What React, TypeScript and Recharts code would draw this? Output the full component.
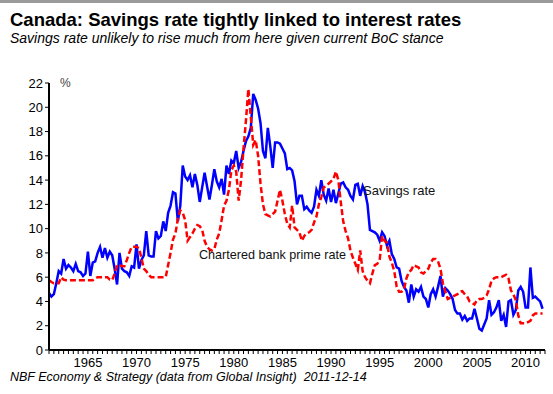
import React from 'react'
import { LineChart, Line, XAxis, YAxis } from 'recharts'

// quarterly data, 1961Q1 .. 2011Q4
const START_YEAR = 1961

const savingsRate = [
  4.7, 4.4, 4.6, 5.5, 6.5, 6.3, 7.5, 6.7, 7.0, 6.8, 6.5, 7.1, 6.5, 6.4, 6.1, 6.3,
  8.1, 6.1, 7.2, 7.3, 8.0, 8.5, 7.6, 8.4, 7.6, 8.1, 7.8, 6.7, 5.4, 8.0, 6.7, 6.5,
  6.4, 6.1, 6.9, 6.8, 8.7, 6.7, 7.4, 7.8, 9.8, 7.8, 7.7, 7.7, 9.8, 9.2, 9.4, 10.6,
  9.8, 11.3, 11.9, 13.0, 12.9, 10.6, 11.9, 15.2, 14.3, 14.0, 14.4, 13.4, 14.5, 13.6, 12.2, 13.4,
  14.6, 13.5, 12.4, 13.6, 14.9, 13.9, 13.4, 14.1, 12.8, 15.2, 14.5, 15.6, 15.4, 16.4, 15.0, 15.5,
  16.4, 17.2, 17.6, 18.3, 21.1, 20.6, 19.9, 18.7, 16.4, 15.8, 18.3, 16.8, 15.0, 17.1, 17.1, 17.0,
  16.6, 16.2, 14.9, 15.0, 14.8, 13.9, 12.0, 12.7, 12.7, 11.6, 11.8, 11.5, 11.3, 11.8, 13.2, 12.7,
  14.0, 12.8, 12.3, 13.3, 12.2, 13.2, 12.1, 12.9, 13.7, 13.8, 13.4, 13.2, 12.7, 12.4, 13.6, 13.7,
  12.7, 13.5, 13.0, 12.0, 9.9, 9.8, 9.7, 9.5, 9.0, 9.7, 9.4, 8.6, 9.0, 7.9, 7.5, 6.8,
  6.7, 5.7, 5.2, 4.9, 3.9, 5.4, 4.4, 5.0, 4.8, 5.2, 4.4, 4.2, 3.5, 4.6, 5.0, 4.4,
  5.2, 6.1, 4.4, 5.1, 4.9, 4.6, 4.2, 3.3, 3.0, 3.0, 2.5, 2.8, 2.4, 2.6, 2.6, 3.4,
  2.6, 1.75, 1.6, 2.1, 2.6, 4.1, 2.9, 3.1, 3.5, 4.1, 2.4, 2.9, 1.9, 4.0, 4.1, 2.9,
  3.3, 4.9, 5.2, 4.8, 3.5, 3.5, 6.8, 4.3, 4.4, 4.2, 4.0, 3.4,
]

const primeRate = [
  5.75, 5.6, 5.5, 5.5, 5.5, 6.0, 5.8, 5.75, 5.75, 5.75, 5.75, 5.75, 5.75, 5.75, 5.75, 5.75,
  5.75, 5.75, 5.75, 5.9, 6.0, 6.0, 6.0, 6.0, 6.0, 5.8, 5.75, 6.3, 7.0, 7.0, 6.9, 6.9,
  7.4, 8.0, 8.5, 8.5, 8.5, 8.4, 7.6, 6.7, 6.5, 6.2, 6.0, 6.0, 6.0, 6.0, 6.0, 6.0,
  6.0, 7.0, 8.0, 9.1, 9.6, 10.8, 11.5, 11.3, 10.7, 9.0, 9.3, 9.6, 10.0, 10.3, 10.2, 9.9,
  9.0, 8.5, 8.3, 8.2, 8.3, 9.1, 9.6, 10.7, 11.9, 12.3, 13.2, 14.8, 15.2, 14.7, 12.3, 14.0,
  16.6, 18.9, 21.5, 19.2, 16.9, 17.3, 16.0, 13.7, 12.0, 11.2, 11.1, 11.0, 11.2, 11.4, 12.3, 13.2,
  12.3, 11.2, 10.4, 10.1, 11.9, 10.1, 9.9, 9.7, 9.0, 9.4, 9.6, 9.7, 9.9, 10.5, 11.0, 12.0,
  12.6, 13.4, 13.5, 13.7, 13.9, 14.1, 14.7, 14.0, 12.2, 10.6, 9.8, 9.2, 8.2, 7.6, 7.1, 6.6,
  8.2, 6.5, 6.0, 5.7, 5.5, 6.3, 7.0, 7.1, 7.4, 9.4, 9.0, 8.8, 7.7, 7.2, 6.5, 5.2,
  4.8, 4.8, 5.0, 5.9, 6.4, 6.6, 7.0, 6.9, 6.8, 6.4, 6.3, 6.5, 6.7, 7.2, 7.5, 7.5,
  7.3, 6.7, 5.5, 4.8, 4.2, 4.3, 4.4, 4.5, 4.6, 4.8, 4.85, 4.6, 4.4, 4.0, 3.9, 3.75,
  4.1, 4.2, 4.2, 4.3, 4.5, 5.0, 5.7, 5.9, 6.0, 6.0, 6.0, 6.1, 6.2, 5.9, 4.9, 4.6,
  4.1, 2.85, 2.2, 2.2, 2.2, 2.3, 2.4, 2.85, 3.0, 3.0, 3.0, 3.0,
]

const yearLabels = [1965, 1970, 1975, 1980, 1985, 1990, 1995, 2000, 2005, 2010]
const yTicks = [0, 2, 4, 6, 8, 10, 12, 14, 16, 18, 20, 22]

const data = savingsRate.map((v, i) => ({
  year: START_YEAR + i / 4,
  savings: v,
  prime: primeRate[i],
}))

// small ticks every half year, labels only on the 5-year marks
const xTicks = Array.from({ length: 103 }, (_, i) => START_YEAR + i / 2)

const FONT = '"Liberation Sans", Arial, sans-serif'

function txt(top: number, left: number, size: number, extra: React.CSSProperties = {}): React.CSSProperties {
  return {
    position: 'absolute', top, left, fontSize: size, lineHeight: `${size}px`,
    fontFamily: FONT, whiteSpace: 'pre', color: '#000', ...extra,
  }
}

export default function App() {
  return (
    <div style={{ position: 'absolute', top: 0, left: 0, width: 553, height: 394, background: '#fff', overflow: 'hidden' }}>
      <div style={{ position: 'absolute', top: 0, left: 0, width: 553, height: 3, background: '#9a9a9a' }} />
      <div style={txt(11, 10, 18.5, { fontWeight: 'bold' })}>Canada: Savings rate tightly linked to interest rates</div>
      <div style={txt(31, 10, 14, { fontStyle: 'italic' })}>Savings rate unlikely to rise much from here given current BoC stance</div>

      <LineChart
        width={553}
        height={394}
        data={data}
        margin={{ top: 83, right: 8, bottom: 24, left: 9 }}
        style={{ position: 'absolute', top: 0, left: 0 }}
      >
        <XAxis
          type="number"
          dataKey="year"
          domain={[1961, 2012]}
          ticks={xTicks}
          interval={0}
          allowDataOverflow
          height={20}
          tickSize={4}
          tickMargin={4}
          tickFormatter={(v: number) => (yearLabels.includes(v) ? String(v) : '')}
          tick={{ fontSize: 13, fill: '#000', fontFamily: FONT }}
          axisLine={{ stroke: '#000', strokeWidth: 2 }}
          tickLine={{ stroke: '#000' }}
        />
        <YAxis
          domain={[0, 22]}
          ticks={yTicks}
          interval={0}
          width={40}
          tickSize={4}
          tick={{ fontSize: 13, fill: '#000', fontFamily: FONT }}
          axisLine={{ stroke: '#000', strokeWidth: 2 }}
          tickLine={{ stroke: '#000' }}
        />
        <Line
          type="linear"
          dataKey="savings"
          stroke="#0000ff"
          strokeWidth={2.5}
          dot={false}
          isAnimationActive={false}
        />
        <Line
          type="linear"
          dataKey="prime"
          stroke="#ff0000"
          strokeWidth={2.5}
          strokeDasharray="6 3"
          dot={false}
          isAnimationActive={false}
        />
      </LineChart>

      <div style={txt(77, 60, 12, { color: '#444' })}>%</div>
      <div style={txt(184, 363, 13, { color: '#111' })}>Savings rate</div>
      <div style={txt(249, 199, 12.6, { color: '#111' })}>Chartered bank prime rate</div>
      <div style={txt(371, 10, 12.5, { fontStyle: 'italic' })}>NBF Economy &amp; Strategy (data from Global Insight)  2011-12-14</div>
    </div>
  )
}
